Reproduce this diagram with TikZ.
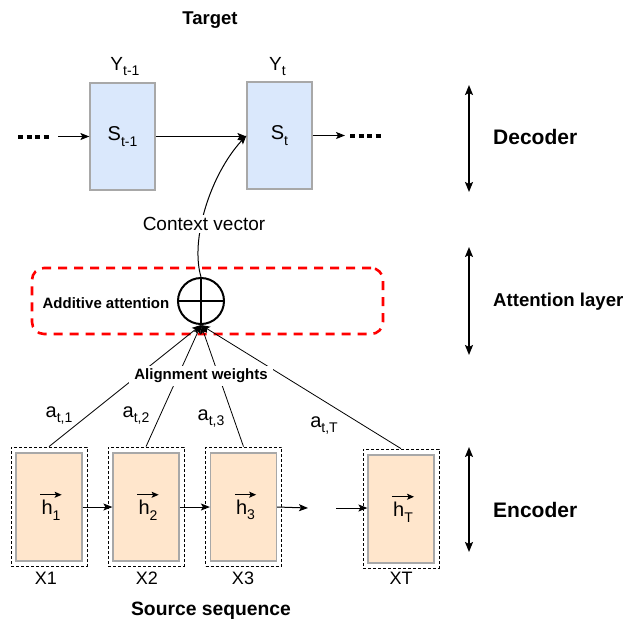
\documentclass[tikz,border=0pt]{standalone}
\usepackage{fontspec}
\setmainfont{Liberation Sans}
\usetikzlibrary{arrows.meta}

\definecolor{decfill}{HTML}{DAE8FC}
\definecolor{encfill}{HTML}{FFE6CC}
\definecolor{boxline}{HTML}{A8A8A8}

% lowered, smaller index text
\newcommand{\lowsub}[1]{\raisebox{-0.28em}{\fontsize{14}{14}\selectfont #1}}
\newcommand{\fsz}[1]{\fontsize{#1}{#1}\selectfont}

\begin{document}
\begin{tikzpicture}[x=1pt,y=-1pt,
  tip/.style={-{Stealth[length=9pt,width=7pt,inset=2pt]}},
  bothtips/.style={{Stealth[length=10pt,width=8pt,inset=2pt]}-{Stealth[length=10pt,width=8pt,inset=2pt]}, line width=1.6pt},
  flow/.style={tip, line width=1pt},
  weight/.style={tip, line width=0.8pt},
  vecarrow/.style={-{Stealth[length=7pt,width=6pt,inset=1.5pt]}, line width=1pt},
  decbox/.style={draw=boxline, line width=1.2pt, fill=decfill, minimum width=65pt, minimum height=107pt, inner sep=0pt},
  encbox/.style={draw=boxline, line width=1.2pt, fill=encfill, minimum width=66pt, minimum height=108pt, inner sep=0pt},
  encframe/.style={draw, dashed, line width=0.8pt, dash pattern=on 3pt off 2pt, minimum width=76pt, minimum height=119pt, inner sep=0pt},
  attframe/.style={draw=red, line width=2.6pt, dash pattern=on 9pt off 7pt, rounded corners=12pt, minimum width=351pt, minimum height=66pt, inner sep=0pt},
  dotrow/.style={line width=4pt, dash pattern=on 5pt off 3.5pt},
  plain/.style={inner sep=1pt},
  hlabel/.style={inner sep=0pt, font=\fsz{20}},
  sidelabel/.style={anchor=west, inner sep=0pt}
]
\useasboundingbox (0,0) rectangle (632,622);

% ---------------- decoder ----------------
\node[plain, font=\bfseries\fsz{18.5}] (target) at (210,20) {Target};

\node[decbox] (st1) at (122.5,136.5) {\fsz{20}S\lowsub{t-1}};
\node[decbox] (st) at (279.5,135.5) {\fsz{20}S\lowsub{t}};
\node[plain, anchor=base] (yt1) at (125,70) {\fsz{19}Y\lowsub{t-1}};
\node[plain, anchor=base] (yt) at (277.5,70) {\fsz{19}Y\lowsub{t}};

\coordinate (ldotA) at (18,136.5);
\coordinate (ldotB) at (48.5,136.5);
\coordinate (lin) at (58,136.5);
\coordinate (rout) at (345,135.5);
\coordinate (rdotA) at (350,135.5);
\coordinate (rdotB) at (380.5,135.5);

\draw[dotrow] (ldotA) -- (ldotB);
\draw[flow] (lin) -- (st1.west);
\draw[flow] (st1.east) -- (st1.east -| st.west);
\draw[flow] (st.east) -- (rout);
\draw[dotrow] (rdotA) -- (rdotB);

% ---------------- attention layer ----------------
\node[attframe] (frame) at (207.5,301) {};
\node[plain, font=\bfseries\fsz{15}] (addl) at (106,303) {Additive attention};
\node[draw, circle, line width=2pt, minimum size=46pt, inner sep=0pt] (plus) at (201,301) {};
\draw[line width=2pt] (plus.north) -- (plus.south);
\draw[line width=2pt] (plus.west) -- (plus.east);

% context vector into the decoder state
\draw[flow] (plus.north) .. controls (190,240) and (210,175) .. (st.west);
\node[fill=white, inner sep=2pt, font=\fsz{19}] (ctx) at (204,224) {Context vector};

% ---------------- encoder ----------------
\node[encframe] (f1) at (49,506.5) {};
\node[encframe] (f2) at (146,506.5) {};
\node[encframe] (f3) at (243.5,506.5) {};
\node[encframe] (fT) at (401,508.5) {};

\node[encbox] (h1) at (49,507) {};
\node[encbox] (h2) at (146,507) {};
\node[encbox] (h3) at (243.5,507) {};
\node[encbox] (hT) at (401,509) {};

% hidden-state labels with a direction arrow over each
\node[hlabel] (hl1) at (51,510) {h\lowsub{1}};
\node[hlabel] (hl2) at (148,510) {h\lowsub{2}};
\node[hlabel] (hl3) at (245.5,510) {h\lowsub{3}};
\node[hlabel] (hlT) at (403,512) {h\lowsub{T}};
\foreach \n in {hl1,hl2,hl3,hlT}
  \draw[vecarrow] ([xshift=-1pt,yshift=5pt]\n.north west) -- ([xshift=1pt,yshift=5pt]\n.north east);

\coordinate (gapA) at (308,508);
\coordinate (gapB) at (336,508);
\draw[flow] (h1.east) -- (h2.west);
\draw[flow] (h2.east) -- (h3.west);
\draw[flow] (h3.east) -- (gapA);
\draw[flow] (gapB) -- (gapB -| hT.west);

\node[plain, font=\fsz{18}] (x1) at (46,578) {X1};
\node[plain, font=\fsz{18}] (x2) at (147,578) {X2};
\node[plain, font=\fsz{18}] (x3) at (243,578) {X3};
\node[plain, font=\fsz{18}] (xT) at (401,578) {XT};
\node[plain, font=\bfseries\fsz{19.3}] (src) at (211,611) {Source sequence};

% ---------------- alignment weights ----------------
\draw[weight] (f1.north) -- (plus.south);
\draw[weight] (f2.north) -- (plus.south);
\draw[weight] (f3.north) -- (plus.south);
\draw[weight] (fT.north) -- (plus.south);
\node[fill=white, inner xsep=5pt, inner ysep=3pt, font=\bfseries\fsz{15}] (align) at (201,376) {Alignment weights};

\node[plain, anchor=base] (a1) at (59,417) {\fsz{20}a\lowsub{t,1}};
\node[plain, anchor=base] (a2) at (136,417) {\fsz{20}a\lowsub{t,2}};
\node[plain, anchor=base] (a3) at (211,420) {\fsz{20}a\lowsub{t,3}};
\node[plain, anchor=base] (aT) at (324,427) {\fsz{20}a\lowsub{t,T}};

% ---------------- layer markers ----------------
\coordinate (decTop) at (469,85);
\coordinate (decBot) at (469,192);
\coordinate (attTop) at (469,247);
\coordinate (attBot) at (469,355);
\coordinate (encTop) at (469,447);
\coordinate (encBot) at (469,552);
\draw[bothtips] (decTop) -- (decBot);
\draw[bothtips] (attTop) -- (attBot);
\draw[bothtips] (encTop) -- (encBot);

\node[sidelabel, font=\bfseries\fsz{21}] (decl) at (493,137) {Decoder};
\node[sidelabel, font=\bfseries\fsz{18.6}] (attl) at (493,302) {Attention layer};
\node[sidelabel, font=\bfseries\fsz{21}] (encl) at (493,510) {Encoder};
\end{tikzpicture}
\end{document}
